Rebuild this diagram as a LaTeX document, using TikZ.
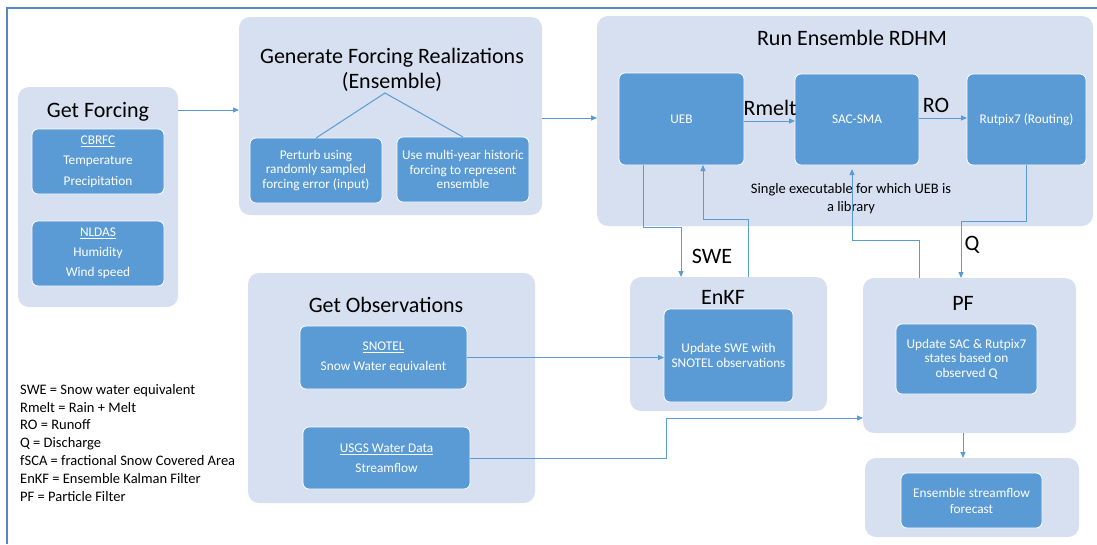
\documentclass[tikz,border=0pt]{standalone}
\usepackage{fontspec}
\setmainfont{Carlito}
\usetikzlibrary{arrows.meta}
\definecolor{boxpale}{RGB}{214,224,240}
\definecolor{boxblue}{RGB}{91,155,213}
\definecolor{frameblue}{RGB}{84,135,200}
\tikzset{
  outerbox/.style={fill=boxpale, rounded corners=11pt, inner sep=0pt, outer sep=0pt},
  innerbox/.style={fill=boxblue, draw=white, line width=0.8pt, rounded corners=6pt,
    inner sep=0pt, outer sep=0pt, text=white, align=center,
    font=\fontsize{13.3}{14.5}\selectfont},
  headtxt/.style={font=\fontsize{22}{25}\selectfont, align=center, inner sep=0pt},
  smalltxt/.style={font=\fontsize{14.5}{18}\selectfont, align=center, inner sep=0pt},
  flowline/.style={draw=boxblue, line width=1pt, -{Triangle[length=6pt,width=5pt]}},
  plainline/.style={draw=boxblue, line width=1pt},
}

\begin{document}
\begin{tikzpicture}[x=1pt, y=-1pt]
			\useasboundingbox (0,0) rectangle (1097,544);
			
			%%%%% frame %%%%%
			\draw[frameblue, line width=2pt] (1097,8) -- (7,8) -- (7,544);
			
			%%%%% get forcing %%%%%
			\node[outerbox, minimum width=160pt, minimum height=220pt] (forcing) at (98,197) {};
			\node[headtxt] (forcingtitle) at (98,112) {Get Forcing};
			\node[innerbox, minimum width=132pt, minimum height=65pt, font=\fontsize{13.3}{20.5}\selectfont] (cbrfc) at (98,161.5) {\underline{CBRFC}\\Temperature\\Precipitation};
			\node[innerbox, minimum width=132pt, minimum height=65pt, font=\fontsize{13.3}{20}\selectfont] (nldas) at (98,253.5) {\underline{NLDAS}\\Humidity\\Wind speed};
			
			%%%%% generate forcing %%%%%
			\node[outerbox, minimum width=303pt, minimum height=198pt] (gen) at (390.5,116) {};
			\node[headtxt] (gentitle) at (392,69.5) {Generate Forcing Realizations\\(Ensemble)};
			\node[innerbox, minimum width=132pt, minimum height=65pt] (perturb) at (316,170.5) {Perturb using\\randomly sampled\\forcing error (input)};
			\node[innerbox, minimum width=132pt, minimum height=65pt] (hist) at (463,169.5) {Use multi-year historic\\forcing to represent\\ensemble};
			\coordinate (fork) at (385,93);
			\draw[plainline] (perturb.north) -- (fork) -- (hist.north);
			
			%%%%% run ensemble %%%%%
			\node[outerbox, minimum width=496pt, minimum height=210pt] (run) at (845,121) {};
			\node[headtxt] (runtitle) at (852,38) {Run Ensemble RDHM};
			\node[innerbox, minimum width=125pt, minimum height=92pt] (ueb) at (681.5,119) {UEB};
			\node[innerbox, minimum width=124pt, minimum height=91pt] (sac) at (857,119.5) {SAC-SMA};
			\node[innerbox, minimum width=119pt, minimum height=91pt] (rut) at (1026.5,119.5) {Rutpix7 (Routing)};
			\node[smalltxt] (runnote) at (851,199) {Single executable for which UEB is\\a library};
			
			%%%%% observations %%%%%
			\node[outerbox, minimum width=287pt, minimum height=230pt] (obs) at (391.5,388) {};
			\node[headtxt] (obstitle) at (386,305) {Get Observations};
			\node[innerbox, minimum width=167pt, minimum height=63pt, font=\fontsize{13.3}{20}\selectfont] (snotel) at (383.5,357.5) {\underline{SNOTEL}\\Snow Water equivalent};
			\node[innerbox, minimum width=167pt, minimum height=62pt, font=\fontsize{13.3}{20}\selectfont] (usgs) at (386.5,458) {\underline{USGS Water Data}\\Streamflow};
			
			%%%%% filters %%%%%
			\node[outerbox, minimum width=197pt, minimum height=134pt] (enkf) at (728.5,344) {};
			\node[headtxt] (enkftitle) at (723,297) {EnKF};
			\node[innerbox, minimum width=129pt, minimum height=93pt] (upswe) at (728.5,355.5) {Update SWE with\\SNOTEL observations};
			
			\node[outerbox, minimum width=213pt, minimum height=155pt] (pf) at (969.5,355.5) {};
			\node[headtxt] (pftitle) at (963,303) {PF};
			\node[innerbox, minimum width=141pt, minimum height=70pt] (uppf) at (966.5,359) {Update SAC \& Rutpix7\\states based on\\observed Q};
			
			\node[outerbox, minimum width=214pt, minimum height=79pt] (fc) at (972,497.5) {};
			\node[innerbox, minimum width=141pt, minimum height=55pt, font=\fontsize{13.3}{16}\selectfont] (upfc) at (971.5,500.5) {Ensemble streamflow\\forecast};
			
			%%%%% legend %%%%%
			\node[anchor=north west, inner sep=0pt, align=left, font=\fontsize{14.5}{17.8}\selectfont] (legend) at (20,384) {SWE = Snow water equivalent\\Rmelt = Rain + Melt\\RO = Runoff\\Q = Discharge\\fSCA = fractional Snow Covered Area\\EnKF = Ensemble Kalman Filter\\PF = Particle Filter};
			
			%%%%% connectors %%%%%
			\draw[flowline] (forcing.east |- 0,110) -- (gen.west |- 0,110);
			\draw[flowline] (gen.east |- 0,118) -- (run.west |- 0,118);
			\draw[flowline] (ueb.east |- 0,121) -- (sac.west |- 0,121);
			\draw[flowline] (sac.east |- 0,118) -- (rut.west |- 0,118);
			\node[headtxt] (rmeltlbl) at (770,108) {Rmelt};
			\node[headtxt] (rolbl) at (936,105) {RO};
			
			\draw[flowline] (ueb.south -| 643,0) -- (643,227) -| (enkf.north -| 681,0);
			\draw[flowline] (enkf.north -| 748,0) -- (748,219) -| (ueb.south -| 703,0);
			\node[headtxt] (swelbl) at (712,256) {SWE};
			\draw[flowline] (pf.north -| 919,0) -- (919,240) -| ([yshift=-4pt]sac.south -| 852,0);
			\draw[flowline] (rut.south -| 1026,0) -- (1026,221) -| (pf.north -| 961,0);
			\node[headtxt] (qlbl) at (972,245) {Q};
			
			\draw[flowline] (snotel.east) -- (snotel.east -| upswe.west);
			\draw[flowline] (usgs.east) -| (666,418) -- (pf.west |- 0,418);
			\draw[flowline] (pf.south -| 963,0) -- (fc.north -| 963,0);
			
		\end{tikzpicture}
\end{document}
